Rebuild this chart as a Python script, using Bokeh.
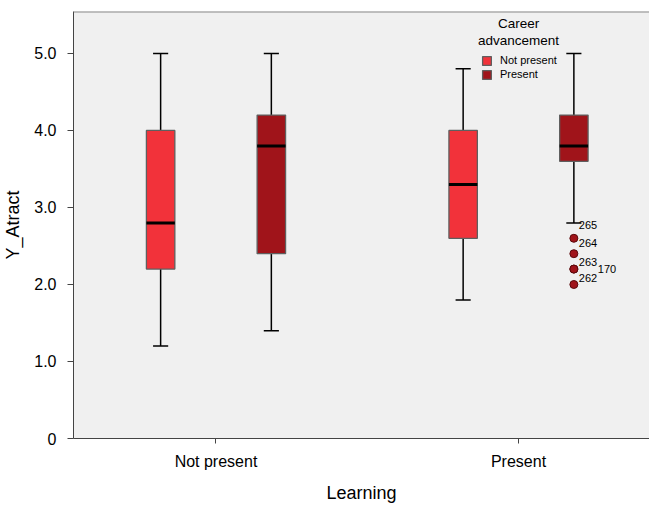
from bokeh.plotting import figure
from bokeh.models import (Range1d, FixedTicker, Legend, LegendItem, ColumnDataSource, Span, Label)
from bokeh.embed import file_html
from bokeh.resources import INLINE
from bokeh.core.properties import value

# ---- data ----
groups = ["Not present", "Present"]            # Learning (x categories)
series = ["Not present", "Present"]            # Career advancement
legend_title = ["Career", "advancement"]
# per box: group index, series index
box_group = [0, 0, 1, 1]
box_series = [0, 1, 0, 1]
lower = [1.2, 1.4, 1.8, 2.8]
q1 = [2.2, 2.4, 2.6, 3.6]
median = [2.8, 3.8, 3.3, 3.8]
q3 = [4.0, 4.2, 4.0, 4.2]
upper = [5.0, 5.0, 4.8, 5.0]
# outliers of box 4 (Learning=Present, Career=Present)
outlier_values = [2.6, 2.4, 2.2, 2.2, 2.0]
outlier_ids = ["265", "264", "263", "170", "262"]
y_ticks = [0, 1, 2, 3, 4, 5]
y_tick_labels = ["0", "1.0", "2.0", "3.0", "4.0", "5.0"]

# ---- styles ----
colors = ["#F2323A", "#A0141A"]
FONT = "Liberation Sans"
offset = 0.183
box_w = 0.094
cap_w = 0.05
label_dx = [5, 5, 5, 24, 5]
label_dy = [-13, -11, -7, 0, -6]

p = figure(width=649, height=505, output_backend="svg", toolbar_location=None,
           x_range=Range1d(-0.471, 1.433), y_range=Range1d(0, 5.545),
           min_border_left=73, min_border_right=0, min_border_top=11, min_border_bottom=67)
p.background_fill_color = "#F0F0F0"
p.border_fill_color = "white"
p.outline_line_color = None
p.xgrid.visible = False
p.ygrid.visible = False

xs = [g + (-offset if s == 0 else offset) for g, s in zip(box_group, box_series)]

# whiskers
p.segment(x0=xs, y0=lower, x1=xs, y1=q1, line_color="black", line_width=1.5)
p.segment(x0=xs, y0=q3, x1=xs, y1=upper, line_color="black", line_width=1.5)
p.segment(x0=[x - cap_w / 2 for x in xs], y0=lower, x1=[x + cap_w / 2 for x in xs], y1=lower,
          line_color="black", line_width=1.5)
p.segment(x0=[x - cap_w / 2 for x in xs], y0=upper, x1=[x + cap_w / 2 for x in xs], y1=upper,
          line_color="black", line_width=1.5)

renderers = []
for si in range(2):
    idx = [i for i, s in enumerate(box_series) if s == si]
    src = ColumnDataSource(dict(x=[xs[i] for i in idx], top=[q3[i] for i in idx],
                                bottom=[q1[i] for i in idx]))
    r = p.vbar(x="x", top="top", bottom="bottom", width=box_w, source=src,
               fill_color=colors[si], line_color="#5f5f5f", line_width=1.3)
    renderers.append(r)

# medians
p.segment(x0=[x - box_w / 2 for x in xs], y0=median, x1=[x + box_w / 2 for x in xs], y1=median,
          line_color="black", line_width=3)

# outliers
ox = xs[3]
p.scatter(x=[ox] * len(outlier_values), y=outlier_values, size=8,
          fill_color=colors[1], line_color="#5a0a0c", line_width=1)

lab_src = ColumnDataSource(dict(x=[ox] * len(outlier_values), y=outlier_values, t=outlier_ids,
                                dx=label_dx, dy=label_dy))
p.text(x="x", y="y", text="t", source=lab_src, x_offset="dx", y_offset="dy",
       text_font=value(FONT), text_font_size="11px", text_baseline="middle",
       text_color="black")

# axes
p.yaxis.ticker = FixedTicker(ticks=y_ticks)
p.yaxis.major_label_overrides = {t: l for t, l in zip(y_ticks, y_tick_labels)}
p.yaxis.minor_tick_line_color = None
p.yaxis.major_tick_in = 0
p.yaxis.major_tick_out = 6
p.yaxis.major_label_standoff = 11
p.yaxis.axis_label = "Y_Atract"
p.yaxis.axis_label_standoff = 8
p.xaxis.ticker = FixedTicker(ticks=[0, 1])
p.xaxis.major_label_overrides = {0: groups[0], 1: groups[1]}
p.xaxis.minor_tick_line_color = None
p.xaxis.major_tick_in = 0
p.xaxis.major_tick_out = 5
p.xaxis.major_label_standoff = 9
p.xaxis.axis_label = "Learning"
p.xaxis.axis_label_standoff = 10
for ax in (p.xaxis, p.yaxis):
    ax.axis_line_color = "#444444"
    ax.major_tick_line_color = "#444444"
    ax.major_label_text_font = FONT
    ax.major_label_text_font_size = "16px"
    ax.major_label_text_color = "black"
    ax.axis_label_text_font = FONT
    ax.axis_label_text_font_size = "18px"
    ax.axis_label_text_font_style = "normal"
    ax.axis_label_text_color = "black"

p.add_layout(Span(location=5.545, dimension="width", line_color="#888888", line_width=2))

legend = Legend(items=[LegendItem(label=series[i], renderers=[renderers[i]]) for i in range(2)],
                location=(408, 358),
                glyph_width=11, glyph_height=11, label_height=11, spacing=2,
                label_standoff=8, padding=0, margin=0,
                background_fill_alpha=0, border_line_color=None,
                label_text_font=FONT, label_text_font_size="11px", label_text_color="black")
p.add_layout(legend)
for txt, yv in zip(legend_title, [5.383, 5.162]):
    p.add_layout(Label(x=1.0, y=yv, text=txt, text_align="center", text_baseline="middle",
                       text_font=FONT, text_font_size="13.5px", text_color="black"))

open("out.html", "w").write(file_html(p, INLINE))
